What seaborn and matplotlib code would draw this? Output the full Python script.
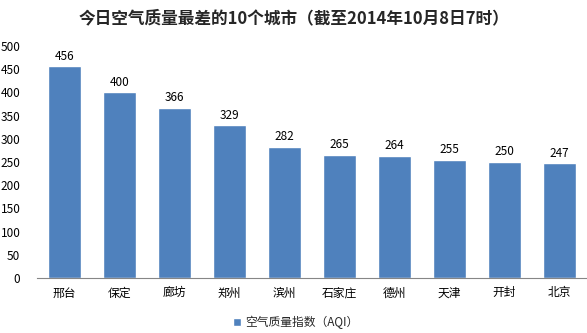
import matplotlib
matplotlib.use("Agg")
import matplotlib.pyplot as plt
import seaborn as sns
import pandas as pd

cities = ["邢台", "保定", "廊坊", "郑州", "滨州", "石家庄", "德州", "天津", "开封", "北京"]
aqi = [456, 400, 366, 329, 282, 265, 264, 255, 250, 247]
yticks = list(range(0, 501, 50))

title = "今日空气质量最差的10个城市（截至2014年10月8日7时）"
series_name = "空气质量指数（AQI）"

sns.set_theme(style="white")
plt.rcParams["font.family"] = ["Noto Sans CJK SC", "DejaVu Sans"]

df = pd.DataFrame({"city": cities, "aqi": aqi})

fig = plt.figure(figsize=(5.87, 3.33), dpi=100)
ax = fig.add_axes([0.063, 0.165, 0.937, 0.697])

sns.barplot(data=df, x="city", y="aqi", color="#4F81BD", saturation=1,
            width=0.6, ax=ax, label=series_name)

for i, v in enumerate(aqi):
    ax.text(i, v + 8, str(v), ha="center", va="bottom", fontsize=8.5, color="#000000")

ax.set_ylim(0, 500)
ax.set_yticks(yticks)
ax.set_xlim(-0.5, len(cities) - 0.5)
ax.set_xlabel("")
ax.set_ylabel("")
ax.tick_params(axis="both", length=0, labelsize=8.5, colors="#000000")
ax.tick_params(axis="x", pad=6)
ax.tick_params(axis="y", pad=12)
for s in ["top", "right", "left"]:
    ax.spines[s].set_visible(False)
ax.spines["bottom"].set_color("#868686")
ax.spines["bottom"].set_linewidth(0.8)

fig.text(0.5, 0.945, title, ha="center", va="center", fontsize=12, fontweight="bold")

ax.legend(loc="center", bbox_to_anchor=(0.47, -0.19), frameon=False,
          fontsize=8.5, handlelength=0.7, handleheight=0.7, handletextpad=0.3,
          borderpad=0.1)

fig.savefig("out.png", dpi=100)
